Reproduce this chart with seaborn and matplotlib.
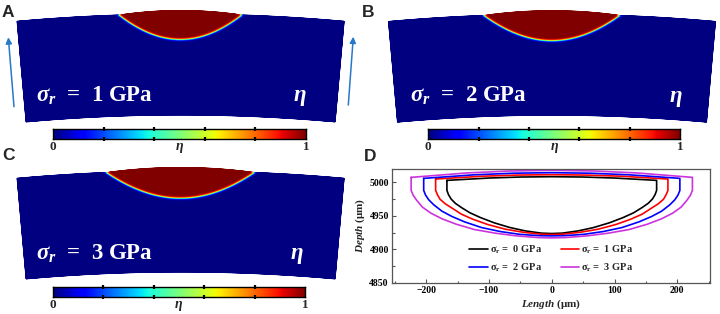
import numpy as np
import pandas as pd
import matplotlib
matplotlib.use("Agg")
import matplotlib.pyplot as plt
import seaborn as sns
from matplotlib.ticker import MultipleLocator
from matplotlib.lines import Line2D

sns.set_theme(style="ticks")
plt.rcParams["font.family"] = ["Liberation Serif", "DejaVu Serif"]
plt.rcParams["mathtext.fontset"] = "custom"
plt.rcParams["mathtext.rm"] = "Liberation Serif:bold"
plt.rcParams["mathtext.it"] = "Liberation Serif:italic:bold"
plt.rcParams["mathtext.bf"] = "Liberation Serif:bold"

# ---------------- data (panel D: melt-pool outlines, µm) ----------------
stress_levels = ["0 GPa", "1 GPa", "2 GPa", "3 GPa"]
line_colors = ["#000000", "#ff0000", "#0000ff", "#cc33dd"]

len_0 = [-167, -100, -50, 0, 50, 100, 167,
         167, 164.5, 160.3, 153.6, 143.6, 130.3, 113.6, 91.9, 66.8, 41.8, 16.7, 0,
         -16.7, -41.8, -66.8, -91.9, -113.6, -130.3, -143.6, -153.6, -160.3, -164.5, -167, -167]
dep_0 = [5003, 5006.5, 5008, 5008.5, 5008, 5006.5, 5003,
         4988, 4981.6, 4975.1, 4968.7, 4962.2, 4954.5, 4947.4, 4939.6, 4932.5, 4927.4, 4924.1, 4923.5,
         4924.1, 4927.4, 4932.5, 4939.6, 4947.4, 4954.5, 4962.2, 4968.7, 4975.1, 4981.6, 4988, 5003]

len_1 = [-185, -111, -55, 0, 55, 111, 185,
         185, 182, 178, 170, 159, 144, 126, 102, 74, 46, 18.5, 0,
         -18.5, -46, -74, -102, -126, -144, -159, -170, -178, -182, -185, -185]
dep_1 = [5005, 5009.2, 5010.9, 5011.5, 5010.9, 5009.2, 5005,
         4988, 4981.4, 4974.8, 4968.2, 4961.6, 4952.5, 4945, 4937, 4930, 4925.5, 4922.6, 4922,
         4922.6, 4925.5, 4930, 4937, 4945, 4952.5, 4961.6, 4968.2, 4974.8, 4981.4, 4988, 5005]

len_2 = [-204, -122, -61, 0, 61, 122, 204,
         204, 201, 196, 188, 175, 159, 139, 112, 82, 51, 20, 0,
         -20, -51, -82, -112, -139, -159, -175, -188, -196, -201, -204, -204]
dep_2 = [5006, 5011.4, 5013.7, 5014.5, 5013.7, 5011.4, 5006,
         4988, 4981, 4974, 4966.5, 4957, 4949, 4941, 4932.5, 4926.5, 4922.3, 4920.3, 4920,
         4920.3, 4922.3, 4926.5, 4932.5, 4941, 4949, 4957, 4966.5, 4974, 4981, 4988, 5006]

len_3 = [-224, -134, -67, 0, 67, 134, 224,
         224, 220.6, 215, 206, 192.6, 174.7, 152.3, 123.2, 89.6, 56, 22.4, 0,
         -22.4, -56, -89.6, -123.2, -152.3, -174.7, -192.6, -206, -215, -220.6, -224, -224]
dep_3 = [5007.5, 5014.2, 5017, 5018, 5017, 5014.2, 5007.5,
         4988, 4980.5, 4973, 4963, 4954, 4945.5, 4937.5, 4929.5, 4924, 4920, 4917.5, 4917,
         4917.5, 4920, 4924, 4929.5, 4937.5, 4945.5, 4954, 4963, 4973, 4980.5, 4988, 5007.5]

# ---------------- data (panels A-C: melt pool in the bent slab, image px) ----------------
panel_stress = ["1 GPa", "2 GPa", "3 GPa"]
pool_half_width = [61, 67.5, 73.5]
pool_depth = [25, 26, 26.7]
pool_bulge = [3.5, 3.5, 3.5]

W, H = 720, 314
fig = plt.figure(figsize=(W / 100, H / 100), dpi=100)

# overlay axes in pixel coordinates (y down)
ov = fig.add_axes([0, 0, 1, 1])
ov.set_xlim(0, W)
ov.set_ylim(H, 0)
ov.axis("off")

Rout, Rin = 1831.0, 1730.0
thm = np.arcsin(163.5 / Rout)


def draw_slab(cx, ytop, w, D, Bb):
    cy = ytop + Rout * np.cos(thm)
    th = np.linspace(-thm, thm, 900)
    v = np.linspace(0, 1, 260)
    TH, V = np.meshgrid(th, v)
    S = Rout * TH
    q = np.clip(1 - (S / w) ** 2, 0, None)
    rtop = Rout + Bb * q
    R = Rin + (rtop - Rin) * V
    rb = Rout - D * (1 - (S / w) ** 2)
    slope = 2 * D * np.abs(S) / w ** 2
    dist = (R - rb) / np.sqrt(1 + slope ** 2)
    eta = 0.5 * (1 + np.tanh(dist / 1.25))
    X = cx + R * np.sin(TH)
    Y = cy - R * np.cos(TH)
    ov.pcolormesh(X, Y, eta, cmap="jet", vmin=0, vmax=1, shading="gouraud",
                  rasterized=True)


slab_pos = [(180.6, 21.3), (552.0, 21.5), (180.6, 178.3)]
for (cx, yt), w, D, Bb in zip(slab_pos, pool_half_width, pool_depth, pool_bulge):
    draw_slab(cx, yt, w, D, Bb)

# panel texts
txt_pos = [(36, 101.5), (410, 102), (36, 259.5)]
eta_pos = [(300, 101.5), (676, 102), (297, 259.5)]
for (tx, ty), (ex, ey), lab in zip(txt_pos, eta_pos, panel_stress):
    ov.text(tx, ty, r"$\sigma_r$  =  " + lab, color="white",
            fontsize=16.5, fontweight="bold", ha="left", va="baseline")
    ov.text(ex, ey, r"$\eta$", color="white", fontsize=16.5, ha="center",
            va="baseline")

# arrows in panel A
arr_col = "#2878c8"
ov.annotate("", xy=(8.3, 37.3), xytext=(14, 106.7),
            arrowprops=dict(arrowstyle="-|>", color=arr_col, lw=1.1,
                            mutation_scale=9, shrinkA=0, shrinkB=0))
ov.annotate("", xy=(353.3, 36.7), xytext=(348.3, 105),
            arrowprops=dict(arrowstyle="-|>", color=arr_col, lw=1.1,
                            mutation_scale=9, shrinkA=0, shrinkB=0))

# panel letters
for lab, (lx, ly) in zip("ABCD", [(1.5, 17), (362, 17), (2, 159.5), (364, 161)]):
    ov.text(lx, ly, lab, fontsize=12.5, fontweight="bold", ha="left",
            va="baseline", family=["Liberation Sans", "DejaVu Sans"])

# colorbars
cbars = [(53.3, 306, 129.3, 139.3), (428.3, 680, 129.3, 139.3), (52.7, 305, 287, 297.3)]
grad = np.linspace(0, 1, 512)[None, :]
for (x0, x1, y0, y1) in cbars:
    cax = fig.add_axes([x0 / W, 1 - y1 / H, (x1 - x0) / W, (y1 - y0) / H])
    cax.imshow(grad, aspect="auto", cmap="jet", extent=(0, 1, 0, 1))
    cax.set_xlim(0, 1)
    cax.set_yticks([])
    cax.set_xticks([0.2, 0.4, 0.6, 0.8])
    cax.tick_params(axis="x", direction="inout", length=3.5, width=1.6,
                    top=True, bottom=True, labelbottom=False, colors="black")
    for sp in cax.spines.values():
        sp.set_linewidth(1.0)
        sp.set_color("black")
    ly = y1 + 11
    ov.text(x0, ly, "0", fontsize=9.5, fontweight="bold", ha="center", va="baseline")
    ov.text((x0 + x1) / 2, ly, r"$\eta$", fontsize=10, ha="center", va="baseline")
    ov.text(x1, ly, "1", fontsize=9.5, fontweight="bold", ha="center", va="baseline")

# ---------------- panel D ----------------
frames = []
for lab, xs, ys in zip(stress_levels, [len_0, len_1, len_2, len_3],
                       [dep_0, dep_1, dep_2, dep_3]):
    frames.append(pd.DataFrame({"Length": xs, "Depth": ys, "stress": lab}))
df = pd.concat(frames, ignore_index=True)

axd = fig.add_axes([392.3 / W, 1 - 282.7 / H, (710 - 392.3) / W, (282.7 - 169) / H])
sns.lineplot(data=df, x="Length", y="Depth", hue="stress", hue_order=stress_levels,
             palette=line_colors, sort=False, estimator=None, lw=1.2, ax=axd,
             legend=False)
axd.set_xlim(-254, 252)
axd.set_ylim(4850, 5020)
axd.xaxis.set_major_locator(MultipleLocator(100))
axd.xaxis.set_minor_locator(MultipleLocator(50))
axd.yaxis.set_major_locator(MultipleLocator(50))
axd.yaxis.set_minor_locator(MultipleLocator(25))
axd.tick_params(which="both", direction="in", colors="#555555", labelcolor="black",
                labelsize=7)
axd.tick_params(which="major", length=3, width=0.8, pad=2.5)
axd.tick_params(which="minor", length=1.8, width=0.8)
for t in axd.get_xticklabels() + axd.get_yticklabels():
    t.set_fontweight("bold")
for sp in axd.spines.values():
    sp.set_color("#555555")
    sp.set_linewidth(0.9)
axd.set_xlabel(r"$\mathit{Length}$ (μm)", fontsize=8, fontweight="bold", labelpad=2)
axd.set_ylabel(r"$\mathit{Depth}$ (μm)", fontsize=8, fontweight="bold", labelpad=2)

handles = [Line2D([], [], color=c, lw=1.2) for c in line_colors]
labels = [r"σ$_{\mathrm{r}}$ =  " + s for s in stress_levels]
order = [0, 2, 1, 3]
axd.legend([handles[i] for i in order], [labels[i] for i in order], ncol=2,
           loc="lower center", bbox_to_anchor=(0.5, -0.01), frameon=False,
           prop=dict(family="Liberation Serif", weight="bold", size=7.5),
           handlelength=1.8, handletextpad=0.2, columnspacing=1.8, labelspacing=0.55)

fig.savefig("out.png", dpi=100)
